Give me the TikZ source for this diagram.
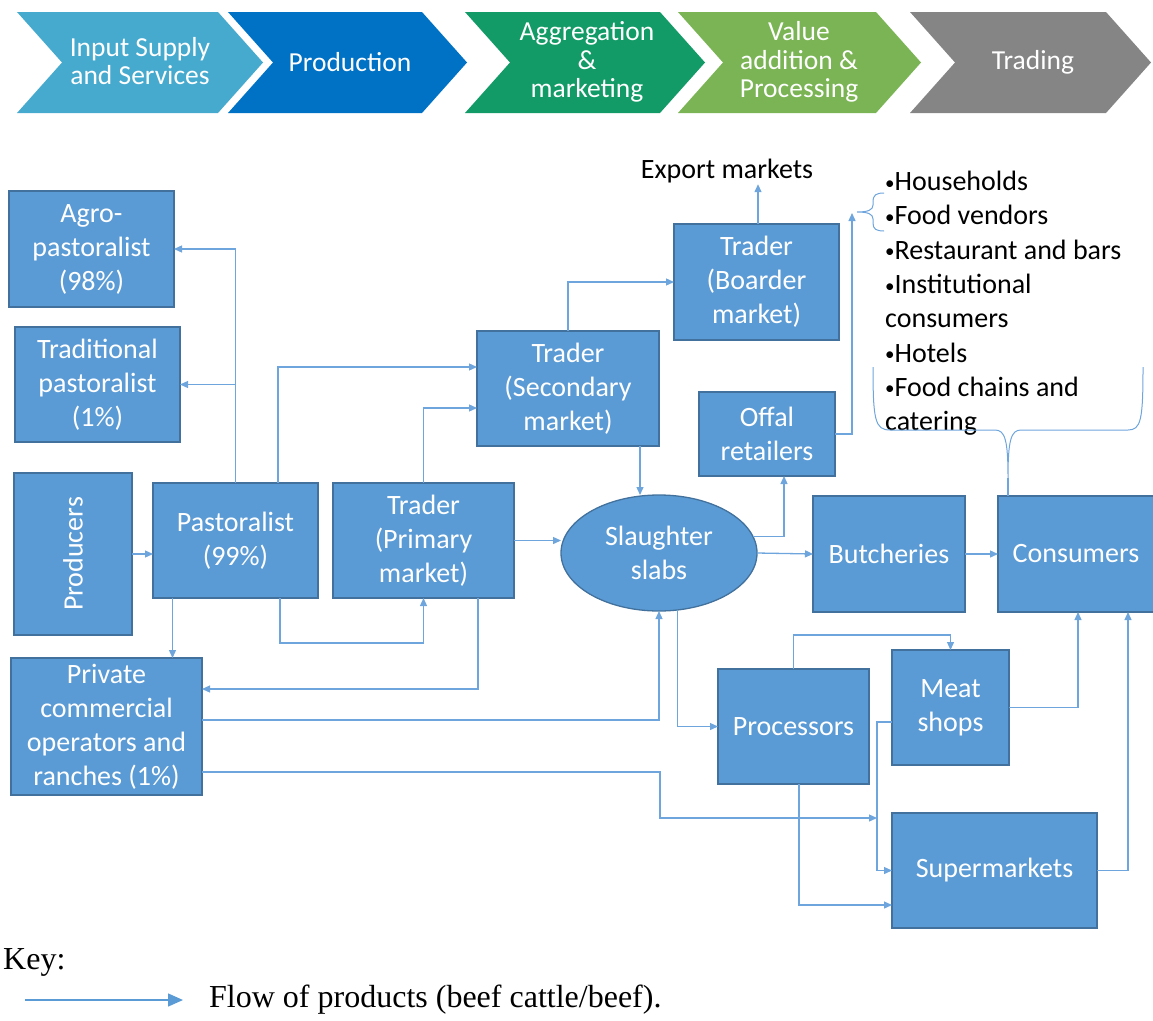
\documentclass[tikz,border=0pt]{standalone}
\usepackage{fontspec}
\usepackage{graphicx}
\usetikzlibrary{arrows.meta,shapes.geometric}
\newfontfamily\calfont{Carlito}
\newfontfamily\banfont{Carlito}
\newfontfamily\keyfont{Liberation Serif}
\definecolor{boxfill}{HTML}{5B9BD5}
\definecolor{boxline}{HTML}{41719C}
\definecolor{flowc}{RGB}{110,165,220}
\definecolor{chA}{RGB}{70,170,207}
\definecolor{chB}{RGB}{0,114,198}
\definecolor{chC}{RGB}{18,155,102}
\definecolor{chD}{RGB}{122,180,84}
\definecolor{chE}{RGB}{133,133,133}
\newcommand\mychev[3]{\fill[#3] (#1,12) -- (#2,12) -- ({#2+45},62.5) -- (#2,113) -- (#1,113) -- ({#1+45},62.5) -- cycle;}
\newcommand\tightlines{\lineskiplimit=-50pt\relax}
\newcommand\banfontsz{\banfont\fontsize{27.5}{28.5}\selectfont\tightlines}
\newcommand\plainfontsz{\calfont\fontsize{28}{34.3}\selectfont\tightlines}
\newcommand\boxfontsz{\calfont\fontsize{28}{34}\selectfont\tightlines}
\newcommand\keyfontsz{\keyfont\fontsize{32}{38}\selectfont}
\newcommand\bul{{\fontsize{19}{19}\selectfont\raisebox{1.5pt}{•}}}
\begin{document}
\begin{tikzpicture}[x=1pt,y=-1pt,
  box/.style={draw=boxline, fill=boxfill, line width=1.3pt, inner sep=0pt, outer sep=0pt, text=white, align=center, font=\boxfontsz},
  flow/.style={draw=flowc, line width=1.3pt, -{Triangle[length=8pt,width=7pt]}},
  conn/.style={draw=flowc, line width=1.3pt},
  bantext/.style={text=white, align=center, font=\banfontsz},
  plain/.style={font=\plainfontsz},
  keyf/.style={font=\keyfontsz, inner sep=0pt, anchor=west}
]
\useasboundingbox (0,0) rectangle (1153,1020);
% banner
\mychev{17}{218}{chA}
\mychev{228}{422}{chB}
\mychev{465}{660}{chC}
\mychev{678}{876}{chD}
\mychev{910}{1106}{chE}
\node[bantext] (b1) at (140,61) {Input Supply\\and Services};
\node[bantext] (b2) at (350,62) {Production};
\node[bantext] (b3) at (587,62) {Aggregation\\\&\\marketing};
\node[bantext] (b4) at (799,62) {Value\\addition \&\\Processing};
\node[bantext] (b5) at (1033,62) {Trading};

% boxes
\node[box, minimum width=165pt, minimum height=116pt] (agro) at (91.5,249) {Agro-\\pastoralist\\(98\%)};
\node[box, minimum width=165pt, minimum height=115pt] (trad) at (97.5,384.5) {Traditional\\pastoralist\\(1\%)};
\node[box, minimum width=118pt, minimum height=162pt] (prod) at (73,554) {\rotatebox{90}{Producers}};
\node[box, minimum width=165pt, minimum height=115pt] (past) at (235.5,540.5) {Pastoralist\\(99\%)};
\node[box, minimum width=181pt, minimum height=115pt] (prim) at (423.5,540.5) {Trader\\(Primary\\market)};
\node[box, minimum width=191pt, minimum height=137pt] (priv) at (106.5,726.5) {Private\\commercial\\operators and\\ranches (1\%)};
\node[box, minimum width=182pt, minimum height=115pt] (sec) at (568,388.5) {Trader\\(Secondary\\market)};
\node[box, minimum width=165pt, minimum height=116pt] (bord) at (756.5,282) {Trader\\(Boarder\\market)};
\node[box, minimum width=136pt, minimum height=84pt] (offal) at (767,434) {Offal\\retailers};
\node[box, ellipse, minimum width=196pt, minimum height=116pt] (slab) at (659,553) {Slaughter\\slabs};
\node[box, minimum width=152pt, minimum height=116pt] (butch) at (889,554) {Butcheries};
\node[box, minimum width=156pt, minimum height=116pt] (cons) at (1076,554) {Consumers};
\node[box, minimum width=151pt, minimum height=115pt] (proc) at (793.5,726.5) {Processors};
\node[box, minimum width=117pt, minimum height=115pt] (meat) at (950.5,707.5) {Meat\\shops};
\node[box, minimum width=205pt, minimum height=115pt] (super) at (994.5,870.5) {Supermarkets};

% texts
\node[plain, inner sep=1pt] (export) at (727,171) {Export markets};
\node[plain, anchor=north west, inner sep=0pt, align=left] (list) at (885,171) {\bul Households\\\bul Food vendors\\\bul Restaurant and bars\\\bul Institutional\\consumers\\\bul Hotels\\\bul Food chains and\\catering};

\coordinate (listtip) at (852,213);
\coordinate (superin) at (877,818);
\coordinate (bracetip) at (1008,478);

% connectors
\draw[flow] (past.north) |- (agro.east);
\draw[flow] (past.north) |- (trad.east);
\draw[flow] ([xshift=42.5pt]past.north) |- ([yshift=21.5pt]sec.west);
\draw[flow] (prim.north) |- ([yshift=-19.5pt]sec.west);
\draw[flow] (sec.north) |- (bord.west);
\draw[flow] ([xshift=1.5pt]bord.north) -- ([xshift=1.5pt]bord.north |- export.south);
\draw[flow] (prod.east) -- (past.west |- prod.east);
\draw[flow] (prim.east) -- (slab.west |- prim.east);
\draw[flow] ([xshift=72pt]sec.south) -- ([xshift=72pt]sec.south |- slab.north);
\draw[flow] (slab.10) -| ([xshift=17pt]offal.south);
\draw[flow] (slab.east) -- (butch.west);
\draw[flow] (butch.east) -- (cons.west);
\draw[flow] (offal.east) -| (listtip);
\draw[flow] ([yshift=6.5pt]priv.east) -| (slab.south);
\draw[flow] (slab.-72) |- (proc.west);
\draw[flow] ([xshift=-63pt]past.south) -- ([xshift=-63pt]past.south |- priv.north);
\draw[flow] ([xshift=44.5pt]past.south) -- ++(0,45) -| (prim.south);
\draw[flow] ([xshift=54.5pt]prim.south) |- ([yshift=37.5pt]priv.east);
\draw[flow] ([yshift=-45.5pt]priv.east) -- ++(458,0) |- (superin);
\draw[flow] (proc.north) -- ++(0,-34) -| (meat.north);
\draw[flow] ([xshift=5.5pt]proc.south) |- ([yshift=-34.5pt]super.west);
\draw[flow] ([yshift=-14.5pt]meat.west) -- ++(-15,0) |- (super.west);
\draw[flow] (meat.east) -| ([xshift=2pt]cons.south);
\draw[flow] (super.east) -| ([xshift=52pt]cons.south);
\draw[conn] ([xshift=-68pt]cons.north) -- (bracetip);

% braces
\draw[conn, line width=1pt] (884,193) .. controls (876,193) and (873,195) .. (873,202) -- (873,205) .. controls (873,210) and (868,212) .. (857,212) .. controls (868,212) and (873,214) .. (873,219) -- (873,223) .. controls (873,229) and (876,231) .. (884,231);
\draw[conn, line width=1pt] (873,367) .. controls (873,420) and (875,430) .. (890,430) -- (995,430) .. controls (1005,430) and (1008,440) .. (bracetip) .. controls (1008,440) and (1011,430) .. (1021,430) -- (1128,430) .. controls (1141,430) and (1143,420) .. (1143,367);

% key
\node[keyf] (keylbl) at (3,962) {Key:};
\coordinate (keyA) at (25,1000);
\coordinate (keyB) at (183,1000);
\draw[draw=boxfill, line width=1.5pt, -{Triangle[length=15pt,width=13pt]}] (keyA) -- (keyB);
\node[keyf] (keytxt) at (209,1000) {Flow of products (beef cattle/beef).};
\end{tikzpicture}
\end{document}
